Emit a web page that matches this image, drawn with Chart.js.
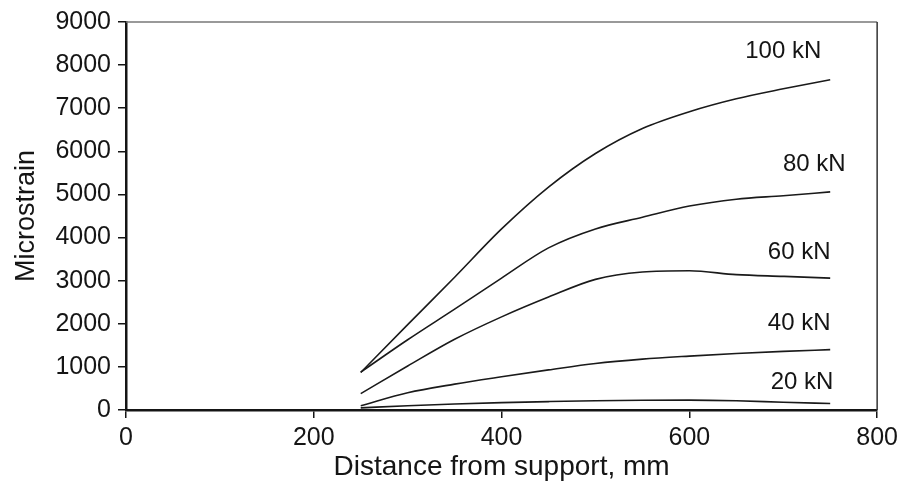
<!DOCTYPE html>
<html>
<head>
<meta charset="utf-8">
<script src="https://cdn.jsdelivr.net/npm/chart.js@4"></script>
<style>
  html, body { margin: 0; padding: 0; background: #fff; }
  #wrap { width: 903px; height: 495px; }
</style>
</head>
<body>
<div id="wrap"><canvas id="strain"></canvas></div>
<script>
// distance from support (mm) and microstrain per load level
const distances = [250, 300, 350, 400, 450, 500, 550, 600, 650, 700, 750];
const load20 = [50, 100, 140, 170, 195, 215, 225, 230, 215, 180, 150];
const load40 = [100, 400, 600, 770, 930, 1080, 1180, 1250, 1310, 1360, 1400];
const load60 = [380, 1020, 1640, 2160, 2620, 3030, 3200, 3230, 3140, 3100, 3060];
const load80 = [880, 1630, 2340, 3060, 3760, 4200, 4470, 4730, 4890, 4970, 5060];
const load100 = [870, 1980, 3080, 4200, 5170, 5950, 6530, 6920, 7220, 7450, 7660];

const seriesNames = ['20 kN', '40 kN', '60 kN', '80 kN', '100 kN'];
// where each curve label sits, in data units
const labelX = [720, 717, 717, 733, 700];
const labelY = [646, 2008, 3646, 5700, 8310];

const xTicks = [0, 200, 400, 600, 800];
const yTicks = [0, 1000, 2000, 3000, 4000, 5000, 6000, 7000, 8000, 9000];

const FONT = '"Liberation Sans", Arial, sans-serif';
const ink = '#151515';

const toPoints = vals => vals.map((v, i) => ({ x: distances[i], y: v }));

const curveLabels = {
    id: 'curveLabels',
    afterDatasetsDraw(chart) {
        const { ctx, scales: { x, y }, chartArea } = chart;
        ctx.save();
        // top and right frame lines
        ctx.strokeStyle = '#777';
        ctx.lineWidth = 1.5;
        ctx.beginPath();
        ctx.moveTo(chartArea.left, chartArea.top);
        ctx.lineTo(chartArea.right, chartArea.top);
        ctx.stroke();
        ctx.strokeStyle = '#333';
        ctx.beginPath();
        ctx.moveTo(chartArea.right, chartArea.top);
        ctx.lineTo(chartArea.right, chartArea.bottom);
        ctx.stroke();

        ctx.fillStyle = ink;
        ctx.font = '24px ' + FONT;
        ctx.textAlign = 'center';
        ctx.textBaseline = 'middle';
        seriesNames.forEach((name, i) => {
            ctx.fillText(name, x.getPixelForValue(labelX[i]), y.getPixelForValue(labelY[i]));
        });
        ctx.restore();
    }
};

const datasets = [load20, load40, load60, load80, load100].map((vals, i) => ({
    label: seriesNames[i],
    data: toPoints(vals),
    borderColor: '#1a1a1a',
    borderWidth: 1.6,
    pointRadius: 0,
    cubicInterpolationMode: 'monotone',
    fill: false
}));

new Chart(document.getElementById('strain'), {
    type: 'line',
    data: { datasets },
    options: {
        responsive: true,
        maintainAspectRatio: false,
        animation: false,
        layout: { padding: { top: 20, right: 25, left: 0, bottom: 0 } },
        plugins: { legend: { display: false }, tooltip: { enabled: false } },
        scales: {
            x: {
                type: 'linear',
                min: 0,
                max: 800,
                afterBuildTicks: axis => { axis.ticks = xTicks.map(v => ({ value: v })); },
                afterFit: axis => { axis.height = 85; },
                grid: { drawOnChartArea: false, tickLength: 8, color: ink, lineWidth: 1.5 },
                border: { color: ink, width: 2.5 },
                ticks: {
                    color: ink,
                    font: { family: FONT, size: 25 },
                    padding: 5,
                    maxRotation: 0,
                    callback: v => String(v)
                },
                title: {
                    display: true,
                    text: 'Distance from support, mm',
                    color: ink,
                    font: { family: FONT, size: 28 },
                    padding: { top: 0, bottom: 11 }
                }
            },
            y: {
                min: 0,
                max: 9000,
                afterBuildTicks: axis => { axis.ticks = yTicks.map(v => ({ value: v })); },
                afterFit: axis => { axis.width = 126; },
                grid: { drawOnChartArea: false, tickLength: 8, color: ink, lineWidth: 1.5 },
                border: { color: ink, width: 2.5 },
                ticks: {
                    color: ink,
                    font: { family: FONT, size: 25 },
                    padding: 7,
                    callback: v => String(v)
                },
                title: {
                    display: true,
                    text: 'Microstrain',
                    color: ink,
                    font: { family: FONT, size: 27 },
                    padding: { top: 10, bottom: 0 }
                }
            }
        }
    },
    plugins: [curveLabels]
});
</script>
</body>
</html>
